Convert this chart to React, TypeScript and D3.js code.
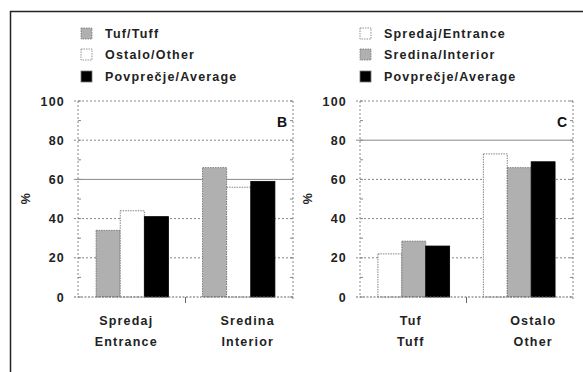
import React from "react";
import * as d3 from "d3";

const width = 583;
const height = 372;
const font = "'Liberation Sans', Arial, sans-serif";
const gray = "#b0b0b0";

// panel B
const categoriesB = [["Spredaj", "Entrance"], ["Sredina", "Interior"]];
const seriesB = ["Tuf/Tuff", "Ostalo/Other", "Povprečje/Average"];
const tufB = [34, 66];
const ostaloB = [44, 56];
const averageB = [41, 59];

// panel C
const categoriesC = [["Tuf", "Tuff"], ["Ostalo", "Other"]];
const seriesC = ["Spredaj/Entrance", "Sredina/Interior", "Povprečje/Average"];
const spredajC = [22, 73];
const sredinaC = [28.5, 66];
const averageC = [26, 69];

const yTicks = [0, 20, 40, 60, 80, 100];
const minorTicks = d3.range(0, 101, 10);

type Panel = {
  letter: string;
  left: number;
  right: number;
  categories: string[][];
  series: string[];
  values: number[][];
  fills: string[];
  solidGrid: number;
  legendX: number;
  labelShift: number[];
};

const panels: Panel[] = [
  {
    letter: "B",
    left: 78,
    right: 293,
    categories: categoriesB,
    series: seriesB,
    values: [tufB, ostaloB, averageB],
    fills: [gray, "#fff", "#000"],
    solidGrid: 60,
    legendX: 81,
    labelShift: [-6, 9],
  },
  {
    letter: "C",
    left: 360,
    right: 573,
    categories: categoriesC,
    series: seriesC,
    values: [spredajC, sredinaC, averageC],
    fills: ["#fff", gray, "#000"],
    solidGrid: 80,
    legendX: 360,
    labelShift: [-3, 14],
  },
];

const top = 101;
const bottom = 297;
const legendRows = [33, 54, 76];

const textStyle = {
  fontFamily: font,
  fontSize: 12.5,
  fontWeight: "bold",
  letterSpacing: 1.2,
  fill: "#222",
};

function BarPanel({ p }: { p: Panel }) {
  const y = d3.scaleLinear().domain([0, 100]).range([bottom, top]);
  const x0 = d3
    .scaleBand()
    .domain(p.categories.map((c) => c[0]))
    .range([p.left, p.right])
    .paddingInner(0.32)
    .paddingOuter(0.17);
  const x1 = d3
    .scaleBand()
    .domain(p.series)
    .range([0, x0.bandwidth()]);
  const mid = (p.left + p.right) / 2;

  return (
    <g>
      {/* legend */}
      {p.series.map((s, i) => (
        <g key={s}>
          <rect
            x={p.legendX}
            y={legendRows[i] - 5}
            width={11}
            height={11}
            fill={p.fills[i]}
            stroke="#777"
            strokeWidth={0.8}
            strokeDasharray={p.fills[i] === "#000" ? null : "1.5,1"}
          />
          <text x={p.legendX + 24} y={legendRows[i] + 4.5} {...textStyle}>
            {s}
          </text>
        </g>
      ))}

      {/* grid */}
      {yTicks.slice(1).map((t) => (
        <line
          key={t}
          x1={p.left - 4}
          x2={p.right}
          y1={y(t)}
          y2={y(t)}
          stroke="#888"
          strokeWidth={1}
          strokeDasharray={t === p.solidGrid ? null : "2,2"}
        />
      ))}
      <line x1={p.left} x2={p.left} y1={top} y2={bottom} stroke="#888" strokeDasharray="2,2" />
      <line x1={p.right} x2={p.right} y1={top} y2={bottom + 4} stroke="#888" strokeDasharray="2,2" />
      {minorTicks.map((t) => (
        <g key={t}>
          <line x1={p.left} x2={p.left + 3} y1={y(t)} y2={y(t)} stroke="#888" />
          <line x1={p.right - 3} x2={p.right} y1={y(t)} y2={y(t)} stroke="#888" />
        </g>
      ))}

      {/* bars */}
      {p.categories.map((c, ci) => (
        <g key={c[0]} transform={`translate(${x0(c[0])},0)`}>
          {p.series.map((s, si) => {
            const v = p.values[si][ci];
            return (
              <rect
                key={s}
                x={x1(s)}
                y={y(v)}
                width={x1.bandwidth()}
                height={y(0) - y(v)}
                fill={p.fills[si]}
                stroke={p.fills[si] === "#000" ? "#000" : "#666"}
                strokeWidth={0.8}
                strokeDasharray={p.fills[si] === "#000" ? null : "1.5,1"}
              />
            );
          })}
        </g>
      ))}

      {/* x axis */}
      <line x1={p.left - 4} x2={p.right} y1={bottom} y2={bottom} stroke="#666" strokeDasharray="2,1.5" />
      <line x1={mid} x2={mid} y1={bottom} y2={bottom + 6} stroke="#666" />
      {p.categories.map((c, ci) => (
        <g key={c[0]}>
          {c.map((line, li) => (
            <text
              key={line}
              x={(x0(c[0]) as number) + x0.bandwidth() / 2 + p.labelShift[ci]}
              y={324.5 + li * 21.5}
              textAnchor="middle"
              {...textStyle}
            >
              {line}
            </text>
          ))}
        </g>
      ))}

      {/* y axis labels */}
      {yTicks.map((t) => (
        <text key={t} x={p.left - 13} y={y(t) + 4.5} textAnchor="end" {...textStyle}>
          {t}
        </text>
      ))}
      <text
        transform={`translate(${p.left - 48},198) rotate(-90)`}
        textAnchor="middle"
        {...textStyle}
      >
        %
      </text>

      <text
        x={p.right - 6}
        y={127}
        textAnchor="end"
        fontFamily={font}
        fontWeight="bold"
        fontSize={14}
        fill="#111"
      >
        {p.letter}
      </text>
    </g>
  );
}

export default function App() {
  return (
    <svg
      width={width}
      height={height}
      style={{ position: "absolute", left: 0, top: 0, background: "#fff" }}
    >
      <rect width={width} height={height} fill="#fff" />
      <path d={`M10.5,${height} V11.5 H${width}`} fill="none" stroke="#222" strokeWidth={1.5} />
      {panels.map((p) => (
        <BarPanel key={p.letter} p={p} />
      ))}
    </svg>
  );
}
